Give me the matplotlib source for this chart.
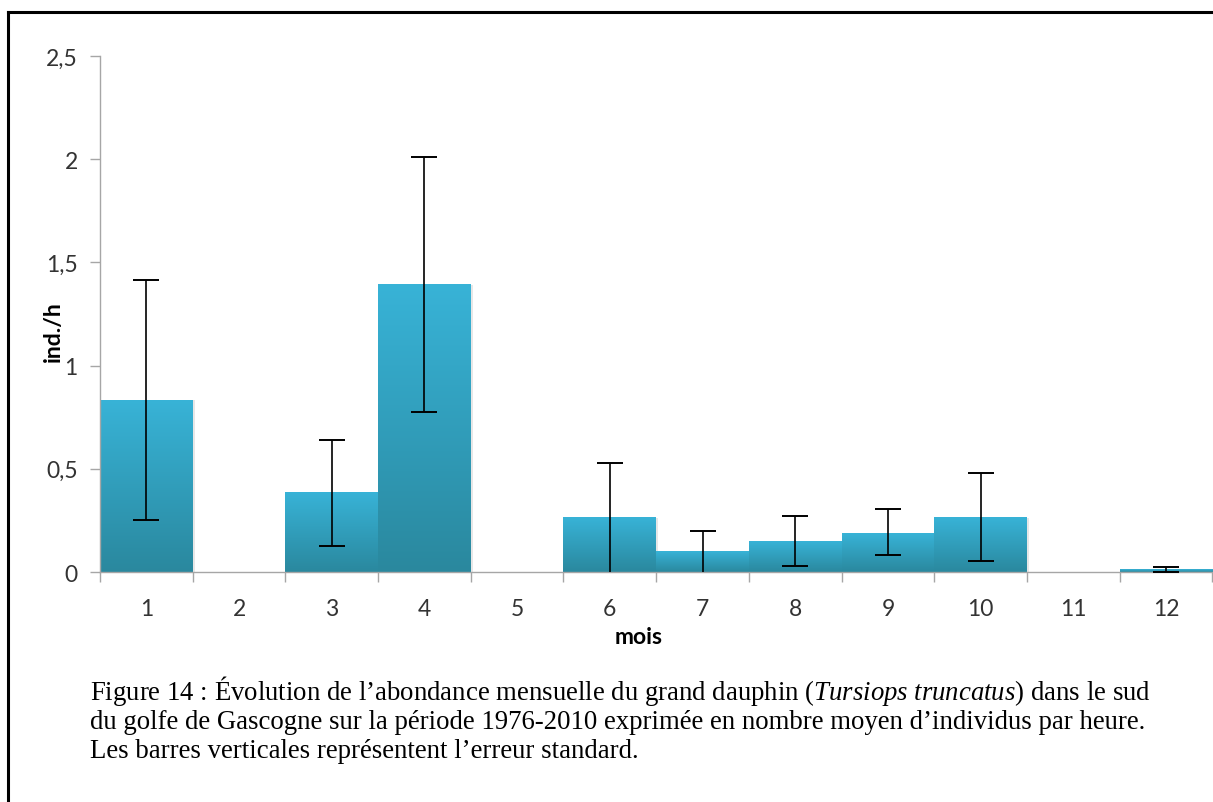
import numpy as np
import matplotlib
matplotlib.use("Agg")
import matplotlib.pyplot as plt
from matplotlib.colors import LinearSegmentedColormap
from matplotlib.lines import Line2D

# monthly mean abundance (ind./h) and standard error
mois = [1, 2, 3, 4, 5, 6, 7, 8, 9, 10, 11, 12]
abondance = [0.833, 0.0, 0.383, 1.393, 0.0, 0.262, 0.100, 0.150, 0.187, 0.262, 0.0, 0.011]
# upper / lower half of the error bar (lower part of months 6-7 runs below 0)
err_haut = [0.580, 0.0, 0.256, 0.620, 0.0, 0.265, 0.097, 0.121, 0.117, 0.216, 0.0, 0.012]
err_bas = [0.580, 0.0, 0.256, 0.620, 0.0, 0.300, 0.120, 0.121, 0.103, 0.207, 0.0, 0.012]
yticks = [0, 0.5, 1, 1.5, 2, 2.5]
ytick_labels = ["0", "0,5", "1", "1,5", "2", "2,5"]

caption = [
    r"Figure 14 : Évolution de l’abondance mensuelle du grand dauphin ($\it{Tursiops\ truncatus}$) dans le sud",
    "du golfe de Gascogne sur la période 1976-2010 exprimée en nombre moyen d’individus par heure.",
    "Les barres verticales représentent l’erreur standard.",
]

plt.rcParams["font.family"] = ["Lato", "DejaVu Sans"]
plt.rcParams["mathtext.fontset"] = "custom"
plt.rcParams["mathtext.it"] = "Liberation Serif:italic"
plt.rcParams["mathtext.rm"] = "Liberation Serif"

fig = plt.figure(figsize=(12.13, 8.03), dpi=100)
ax = fig.add_axes([0.0824, 0.2864, 0.9171, 0.6426])

grad_cmap = LinearSegmentedColormap.from_list("bar", ["#2a889e", "#38b3d7"])
grad = np.linspace(0, 1, 256).reshape(-1, 1)

for m, h in zip(mois, abondance):
    if h <= 0:
        continue
    # faint shadow on the right side
    ax.bar(m + 0.02, h, width=1.0, color="#d8d8d8", alpha=0.6, zorder=1)
    ax.imshow(grad, extent=[m - 0.5, m + 0.5, 0, h], origin="lower",
              aspect="auto", cmap=grad_cmap, zorder=2)

# only months with observations get an error bar
keep = [i for i, e in enumerate(err_haut) if e > 0]
ax.errorbar([mois[i] for i in keep], [abondance[i] for i in keep],
            yerr=[[err_bas[i] for i in keep], [err_haut[i] for i in keep]],
            fmt="none", ecolor="black", elinewidth=1.2, capsize=9.5,
            capthick=1.4, zorder=4)

ax.set_xlim(0.5, 12.5)
ax.set_ylim(0, 2.5)

for side in ["top", "right"]:
    ax.spines[side].set_visible(False)
for side in ["left", "bottom"]:
    ax.spines[side].set_color("#a6a6a6")
    ax.spines[side].set_linewidth(1.0)

ax.set_yticks(yticks)
ax.set_yticklabels(ytick_labels)
ax.set_xticks(mois)
ax.set_xticklabels([str(m) for m in mois])
ax.set_xticks(np.arange(0.5, 13.0, 1.0), minor=True)
ax.tick_params(axis="y", length=7, width=1.0, color="#a6a6a6", pad=9,
               labelsize=16.5, labelcolor="#333333")
ax.tick_params(axis="x", which="major", length=0, pad=19,
               labelsize=16.5, labelcolor="#333333")
ax.tick_params(axis="x", which="minor", length=7, width=1.0, color="#a6a6a6")

ax.set_xlabel("mois", fontsize=16.5, fontweight="bold")
ax.xaxis.set_label_coords(0.484, -0.105)
ax.set_ylabel("ind./h", fontsize=16.5, fontweight="bold")
ax.yaxis.set_label_coords(-0.032, 0.467)

# frame around the figure (only top and left visible in the crop)
fig.add_artist(Line2D([0.0066, 0.0066], [0.0, 0.984], color="black", lw=2.2,
                      transform=fig.transFigure))
fig.add_artist(Line2D([0.0066, 1.0], [0.984, 0.984], color="black", lw=2.2,
                      transform=fig.transFigure))

for i, line in enumerate(caption):
    fig.text(0.0742, 1 - (700 + 29 * i) / 803, line, family="Liberation Serif",
             fontsize=19.3, va="baseline", ha="left", color="black")

fig.savefig("out.png", dpi=100)
